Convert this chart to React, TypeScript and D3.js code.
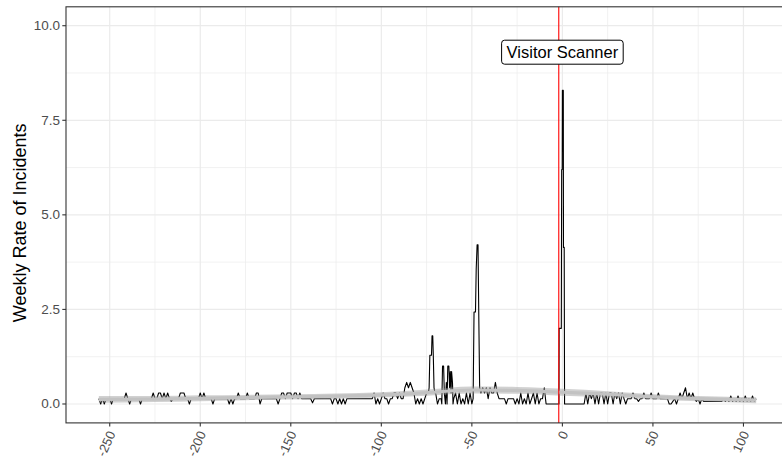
import React, { useLayoutEffect, useRef, useState } from "react";
import * as d3 from "d3";

// Weekly incident rate, one value per week from week -256 onwards.
// null marks weeks that are described by the finer samples further down.
const FIRST_WEEK = -256;
const weeklyRate: (number | null)[] = [
  0.14, 0, 0.14, 0, 0.14, 0.14, 0.14, 0, 0.14, 0.14, // -256
  0.14, 0.14, 0.14, 0.14, 0.14, 0.29, 0.14, 0, 0.14, 0.14, // -246
  0.14, 0.14, 0.14, 0, 0.14, 0.14, 0.14, 0.14, 0.14, 0.14, // -236
  0.29, 0.14, 0.14, 0.29, 0.29, 0.14, 0.29, 0.14, 0.29, 0.14, // -226
  0.07, 0.14, 0.14, 0.14, 0.14, 0.29, 0.29, 0.29, 0.14, 0.14, // -216
  0, 0.14, 0.14, 0.14, 0.14, 0.14, 0.29, 0.14, 0.29, 0.14, // -206
  0.14, 0.14, 0.14, 0, 0.14, 0.14, 0.14, 0.14, 0.14, 0.14, // -196
  0.14, 0.14, 0, 0.14, 0, 0.14, 0.14, 0.29, 0.14, 0.14, // -186
  0.14, 0.14, 0.29, 0.14, 0.14, 0.14, 0.14, 0.29, 0.29, 0, // -176
  0.14, 0.14, 0.14, 0.14, 0.14, 0.14, 0.14, 0.14, 0.14, 0, // -166
  0.14, 0.29, 0.29, 0.14, 0.29, 0.29, 0.29, 0.14, 0.29, 0.29, // -156
  0.14, 0.29, 0.14, 0.14, 0.14, 0.14, 0.14, 0.14, 0.03, 0.14, // -146
  0.14, 0.14, 0.14, 0.14, 0.14, 0.14, 0.14, 0.14, 0.14, 0, // -136
  0.14, 0.14, 0, 0.14, 0, 0.14, 0, 0.14, 0.14, 0.14, // -126
  0.14, 0.14, 0.14, 0.14, 0.14, 0.14, 0.14, 0.14, 0.14, 0.14, // -116
  0.14, 0.14, 0.29, 0, 0.14, 0, 0.14, 0.29, 0.14, 0.14, // -106
  0, 0.14, 0.14, 0.29, 0.29, 0.14, 0.29, 0.14, 0.14, 0.43, // -96
  0.57, 0.43, 0.57, 0.43, 0.29, 0, 0.14, 0, 0.14, 0, // -86
  0.14, 0.29, 0.29, null, null, null, 0.29, 0, 0.14, 0.14, // -76
  null, null, null, null, null, null, 0.14, 0.29, 0, 0.29, // -66
  0, 0.14, 0, 0.29, 0, 0.29, 0, null, null, null, // -56
  null, 0.29, 0.43, 0.29, 0.43, 0.14, 0.43, 0.29, 0.29, 0.57, // -46
  0.29, 0.14, 0.14, 0.14, 0.14, 0, 0.14, 0.14, 0.14, 0.14, // -36
  0, 0.14, 0, 0.29, 0, 0.14, 0, 0.29, 0, 0.14, // -26
  0.29, 0, 0.29, 0, 0.14, 0.14, 0.43, 0, 0, 0, // -16
  0, 0, 0, 0, 0, null, null, null, 0, 0, // -6
  0, 0, 0, 0, 0, 0, 0, 0, 0, 0.29, // 4
  0, 0.29, 0.14, 0.29, 0, 0.29, 0, 0.29, 0.29, 0, // 14
  0.29, 0, 0.29, 0.29, 0, 0.29, 0.14, 0.29, 0, 0.29, // 24
  0.14, 0, 0.14, 0.14, 0.14, 0.29, 0.14, 0.14, 0.07, 0.14, // 34
  0.14, 0.29, 0.14, 0.14, 0.14, 0.29, 0.14, 0.14, 0.14, 0.29, // 44
  0.14, 0.14, 0.14, 0.14, 0.14, 0, 0, 0.07, 0.14, 0, // 54
  0.14, 0.29, 0.14, 0.29, 0.43, 0.14, 0.29, 0.14, 0.29, 0.14, // 64
  0.07, 0.14, 0, 0.14, 0.07, 0.07, 0.07, 0.07, 0.07, 0.07, // 74
  0.07, 0.07, 0.07, 0.07, 0.07, 0.14, 0.07, 0.14, 0.07, 0.21, // 84
  0.07, 0.14, 0.07, 0.21, 0.07, 0.14, 0.07, 0.21, 0.07, 0.14, // 94
  0.07, 0.21, 0.07, 0.14, // 104
];

// Finer samples around the outbreaks.
const burstAWeeks = [-73.6, -73.2, -72.3, -72.0, -71.6, -71.3, -70.9, -70.4];
const burstARates = [0.43, 1.29, 1.29, 1.8, 1.8, 1.29, 0.43, 0.29];

const burstBWeeks = [-66.6, -66.2, -65.6, -65.2, -64.6, -64.1, -63.7, -63.3, -62.7, -62.3, -61.9, -61.5, -61.2, -60.7, -60.4];
const burstBRates = [0, 1.0, 1.0, 0.29, 0, 0.57, 0, 1.0, 1.0, 0.43, 0.86, 0.29, 0.86, 0.57, 0];

const burstCWeeks = [-49.3, -48.8, -48.0, -47.6, -47.1, -46.6, -46.2, -45.7];
const burstCRates = [0.14, 2.43, 2.43, 3.57, 4.21, 4.21, 2.43, 0.43];

const burstDWeeks = [-1.9, -1.8, -0.6, -0.4, -0.1, 0.0, 0.5, 0.6, 1.0, 1.2];
const burstDRates = [0, 2.0, 2.0, 6.2, 6.2, 8.29, 8.29, 4.14, 4.14, 0];

// Smoothed trend with its confidence band.
const trendWeeks = [-256, -225, -200, -175, -150, -125, -100, -75, -50, -25, 0, 25, 50, 75, 107];
const trendFit = [0.12, 0.13, 0.15, 0.17, 0.19, 0.21, 0.24, 0.3, 0.37, 0.36, 0.31, 0.26, 0.19, 0.14, 0.1];
const trendHalfWidth = [0.09, 0.08, 0.08, 0.07, 0.07, 0.07, 0.07, 0.08, 0.09, 0.09, 0.09, 0.08, 0.07, 0.07, 0.08];

const xTicks = [-250, -200, -150, -100, -50, 0, 50, 100];
const xMinorTicks = [-225, -175, -125, -75, -25, 25, 75, 125];
const yTicks = [0, 2.5, 5, 7.5, 10];
const yMinorTicks = [1.25, 3.75, 6.25, 8.75];

const eventWeek = -2;
const eventLabel = "Visitor Scanner";
const eventLabelPos = { week: 0, rate: 9.3 };
const yTitle = "Weekly Rate of Incidents";

const W = 782;
const H = 461;
const FONT = "'Liberation Sans', Arial, Helvetica, sans-serif";

type Pt = { w: number; r: number };

function buildSeries(): Pt[] {
  const pts: Pt[] = [];
  weeklyRate.forEach((r, i) => {
    if (r !== null) pts.push({ w: FIRST_WEEK + i, r });
  });
  const bursts: [number[], number[]][] = [
    [burstAWeeks, burstARates],
    [burstBWeeks, burstBRates],
    [burstCWeeks, burstCRates],
    [burstDWeeks, burstDRates],
  ];
  bursts.forEach(([ws, rs]) => ws.forEach((w, i) => pts.push({ w, r: rs[i] })));
  pts.sort((a, b) => a.w - b.w);
  return pts;
}

export default function App() {
  const panel = { left: 66, right: 789, top: 6.8, bottom: 422.9 };
  const series = buildSeries();
  const wMin = d3.min(series, (p) => p.w) as number;
  const wMax = d3.max(series, (p) => p.w) as number;
  const pad = (wMax - wMin) * 0.05;

  const x = d3.scaleLinear().domain([wMin - pad, wMax + pad]).range([panel.left, panel.right]);
  const y = d3.scaleLinear().domain([-0.5, 10.5]).range([panel.bottom, panel.top]);

  const line = d3
    .line<Pt>()
    .x((d) => x(d.w))
    .y((d) => y(d.r));

  const trend = trendWeeks.map((w, i) => ({ w, f: trendFit[i], h: trendHalfWidth[i] }));
  const band = d3
    .area<{ w: number; f: number; h: number }>()
    .x((d) => x(d.w))
    .y0((d) => y(d.f - d.h))
    .y1((d) => y(d.f + d.h))
    .curve(d3.curveMonotoneX);
  const trendLine = d3
    .line<{ w: number; f: number; h: number }>()
    .x((d) => x(d.w))
    .y((d) => y(d.f))
    .curve(d3.curveMonotoneX);

  const textRef = useRef<SVGTextElement>(null);
  const [labelW, setLabelW] = useState(112);
  useLayoutEffect(() => {
    if (textRef.current) setLabelW(textRef.current.getComputedTextLength());
  }, []);

  const lx = x(eventLabelPos.week);
  const ly = y(eventLabelPos.rate);
  const boxW = labelW + 10;
  const boxH = 24;

  const grid = "#EBEBEB";
  const axisCol = "#333333";
  const tickText = "#4D4D4D";

  return (
    <svg
      width={W}
      height={H}
      style={{ position: "absolute", left: 0, top: 0, background: "#fff" }}
      fontFamily={FONT}
    >
      <rect x={0} y={0} width={W} height={H} fill="#fff" />
      {/* grid */}
      {yMinorTicks.map((t) => (
        <line key={"ym" + t} x1={panel.left} x2={panel.right} y1={y(t)} y2={y(t)} stroke={grid} strokeWidth={0.7} />
      ))}
      {xMinorTicks.map((t) => (
        <line key={"xm" + t} x1={x(t)} x2={x(t)} y1={panel.top} y2={panel.bottom} stroke={grid} strokeWidth={0.7} />
      ))}
      {yTicks.map((t) => (
        <line key={"yg" + t} x1={panel.left} x2={panel.right} y1={y(t)} y2={y(t)} stroke={grid} strokeWidth={1.2} />
      ))}
      {xTicks.map((t) => (
        <line key={"xg" + t} x1={x(t)} x2={x(t)} y1={panel.top} y2={panel.bottom} stroke={grid} strokeWidth={1.2} />
      ))}

      {/* weekly rate */}
      <path d={line(series) ?? ""} fill="none" stroke="#000" strokeWidth={1.1} strokeLinejoin="round" />

      {/* trend */}
      <path d={band(trend) ?? ""} fill="#999999" fillOpacity={0.45} stroke="none" />
      <path d={trendLine(trend) ?? ""} fill="none" stroke="#C2C2C2" strokeWidth={3.2} />

      {/* event marker */}
      <line x1={x(eventWeek)} x2={x(eventWeek)} y1={panel.top} y2={panel.bottom} stroke="#FF0000" strokeWidth={1.1} />

      {/* event label */}
      <rect
        x={lx - boxW / 2}
        y={ly - boxH / 2}
        width={boxW}
        height={boxH}
        rx={3}
        ry={3}
        fill="#fff"
        stroke="#000"
        strokeWidth={1}
      />
      <text ref={textRef} x={lx} y={ly} textAnchor="middle" dominantBaseline="central" fontSize={16.5} fill="#000">
        {eventLabel}
      </text>

      {/* panel border */}
      <rect
        x={panel.left}
        y={panel.top}
        width={panel.right - panel.left}
        height={panel.bottom - panel.top}
        fill="none"
        stroke={axisCol}
        strokeWidth={1.1}
      />

      {/* y axis */}
      {yTicks.map((t) => (
        <g key={"yt" + t}>
          <line x1={panel.left - 3.7} x2={panel.left} y1={y(t)} y2={y(t)} stroke={axisCol} strokeWidth={1.1} />
          <text x={panel.left - 6} y={y(t)} textAnchor="end" dominantBaseline="central" fontSize={13.5} fill={tickText}>
            {d3.format(".1f")(t)}
          </text>
        </g>
      ))}

      {/* x axis */}
      {xTicks.map((t) => (
        <g key={"xt" + t}>
          <line x1={x(t)} x2={x(t)} y1={panel.bottom} y2={panel.bottom + 3.7} stroke={axisCol} strokeWidth={1.1} />
          <text
            transform={`translate(${x(t) + 2},${panel.bottom + 9}) rotate(-65)`}
            textAnchor="end"
            dominantBaseline="central"
            fontSize={13}
            fill={tickText}
          >
            {t}
          </text>
        </g>
      ))}

      {/* y title */}
      <text
        transform={`translate(20,${(panel.top + panel.bottom) / 2 + 8}) rotate(-90)`}
        textAnchor="middle"
        dominantBaseline="central"
        fontSize={18}
        fill="#000"
      >
        {yTitle}
      </text>
    </svg>
  );
}
